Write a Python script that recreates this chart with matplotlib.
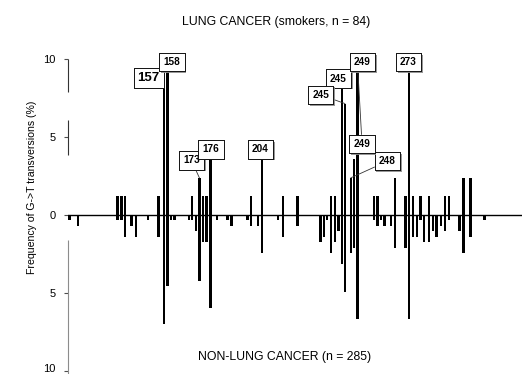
import matplotlib
matplotlib.use('Agg')
import matplotlib.pyplot as plt
import matplotlib.patheffects as pe
import matplotlib.transforms as mtransforms
import numpy as np

plt.rcParams['font.family'] = ['Liberation Sans', 'DejaVu Sans']

# category positions along the codon axis (only codons carrying mutations)
positions = [0.4, 2.8, 13.6, 14.7, 15.7, 17.5, 18.7, 22.0, 24.9, 26.4,
             27.4, 28.4, 29.4, 33.3, 34.2, 35.2, 36.2, 37.2, 38.2, 39.2,
             41.0, 44.0, 45.1, 49.4, 50.4, 52.4, 53.5, 57.8, 59.3, 63.2,
             69.5, 70.5, 71.4, 72.4, 73.5, 74.5, 75.5, 76.3, 77.9, 78.8,
             79.8, 84.3, 85.2, 86.2, 87.2, 89.0, 90.1, 93.0, 94.0, 95.1,
             96.1, 97.1, 98.0, 99.4, 100.5, 101.5, 102.8, 103.9, 105.0, 107.8,
             108.9, 110.9, 114.7]
# number of G->T transversions per codon
lung_counts = [0, 0, 1, 1, 1, 0, 0, 0, 1, 7,
               8, 0, 0, 0, 1, 0, 2, 1, 1, 3,
               0, 0, 0, 0, 1, 0, 3, 0, 1, 1,
               0, 0, 0, 1, 1, 0, 7, 6, 2, 3,
               8, 1, 1, 0, 0, 0, 2, 1, 8, 1,
               0, 1, 0, 1, 0, 0, 0, 1, 1, 0,
               2, 2, 0]
nonlung_counts = [1, 2, 1, 1, 4, 2, 4, 1, 4, 20,
                  13, 1, 1, 1, 1, 3, 12, 5, 5, 17,
                  1, 1, 2, 1, 2, 2, 7, 1, 4, 2,
                  5, 4, 1, 7, 5, 3, 9, 14, 7, 6,
                  19, 1, 2, 1, 2, 2, 6, 6, 19, 4,
                  4, 1, 5, 5, 3, 4, 2, 3, 1, 3,
                  7, 4, 1]
n_lung = 84
n_nonlung = 285

label_texts = ['157', '158', '173', '176', '204', '245', '245', '248', '249', '249', '273']
label_bars = [9, 10, 16, 19, 26, 36, 37, 38, 40, 39, 48]

# layout of label boxes (data coords) and whether they carry a pointer
label_xy = [(22.2, 8.8), (28.65, 9.8), (34.0, 3.5), (39.4, 4.2), (53.0, 4.2),
            (74.5, 8.75), (69.6, 7.7), (88.0, 3.45), (81.0, 4.55), (81.1, 9.8),
            (93.8, 9.8)]
label_pointer = [False, False, True, False, False, False, True, True, True, False, False]
label_size = [9.5, 7.2, 7.2, 7.2, 7.2, 7.2, 7.2, 7.2, 7.2, 7.2, 7.2]
label_pad = [0.3, 0.42, 0.42, 0.42, 0.42, 0.42, 0.42, 0.42, 0.42, 0.42, 0.42]

pos = np.array(positions)
lung_pct = np.array(lung_counts) / n_lung * 100
non_pct = -np.array(nonlung_counts) / n_nonlung * 100

fig = plt.figure(figsize=(5.22, 3.74), dpi=100)
ax = fig.add_axes([68 / 522, 3 / 374, 1 - 68 / 522, 312 / 374])
ax.set_xlim(0, (522 - 68) / 3.63)
ax.set_ylim(-10, 10)

w = 0.68
ax.bar(pos, lung_pct, width=w, color='black', linewidth=0)
ax.bar(pos, non_pct, width=w, color='black', linewidth=0)
ax.axhline(0, color='black', lw=1.0, zorder=3)

for s in ['top', 'right', 'bottom', 'left']:
    ax.spines[s].set_visible(False)
# broken left axis line (as in the scanned original)
for (a, b), c in zip([(10, 7.9), (6.1, 3.85), (-1.6, -10.3)], ['0.2', '0.2', '0.55']):
    ax.plot([0, 0], [a, b], color=c, lw=0.8, clip_on=False, solid_capstyle='butt')

ax.set_xticks([])
ax.set_yticks([10, 5, 0, -5, -10])
ax.set_yticklabels(['10', '5', '0', '5', '10'])
ax.tick_params(axis='y', length=3, width=0.8, pad=6, labelsize=8, color='0.3')
last = ax.get_yticklabels()[-1]
last.set_transform(last.get_transform() + mtransforms.ScaledTranslation(0, 2.5 / 72, fig.dpi_scale_trans))

for t, bi, (tx, ty), ptr, fs, pd in zip(label_texts, label_bars, label_xy, label_pointer,
                                        label_size, label_pad):
    bx = pos[bi]
    by = lung_pct[bi]
    kw = dict(arrowprops=dict(arrowstyle='-', lw=0.6, color='0.2', shrinkA=0, shrinkB=0)) if ptr else {}
    ann = ax.annotate(t, xy=(bx, by), xytext=(tx, ty), textcoords='data',
                      ha='center', va='center', fontsize=fs, fontweight='bold',
                      bbox=dict(boxstyle='square,pad=%.2f' % pd, fc='white', ec='black', lw=0.6),
                      annotation_clip=False, zorder=5, **kw)
    ann.get_bbox_patch().set_path_effects([
        pe.withSimplePatchShadow(offset=(1.2, -1.2), shadow_rgbFace='0.55', alpha=0.9),
        pe.Normal()])

fig.text(276 / 522, 1 - 22 / 374, 'LUNG CANCER (smokers, n = 84)', ha='center', va='center', fontsize=8.8)
fig.text(284.5 / 522, 1 - 357 / 374, 'NON-LUNG CANCER (n = 285)', ha='center', va='center', fontsize=8.8)
fig.text(32 / 522, 1 - 187 / 374, 'Frequency of G->T transversions (%)', rotation=90,
         ha='center', va='center', fontsize=7.6)

fig.savefig('out.png', dpi=100)
